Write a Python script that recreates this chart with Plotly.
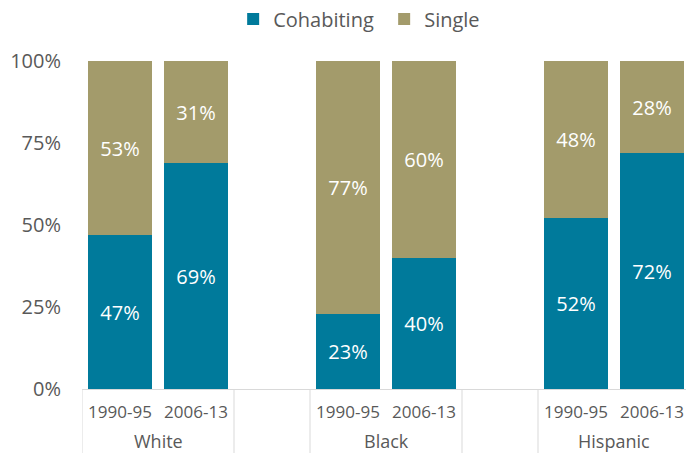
import plotly.graph_objects as go

groups = ["White", "Black", "Hispanic"]
periods = ["1990-95", "2006-13"]
cohabiting = [47, 69, 23, 40, 52, 72]
single = [53, 31, 77, 60, 48, 28]
y_ticks = [0, 25, 50, 75, 100]
y_tick_labels = ["0%", "25%", "50%", "75%", "100%"]

# slot positions: two bars per group, one empty slot between groups
xpos = []
for gi in range(len(groups)):
    for pi in range(len(periods)):
        xpos.append(gi * 3 + pi)
xlabels = periods * len(groups)

TEAL = "#007A9B"
TAN = "#A39B6B"
GREY = "#595959"
FONT = "Open Sans"

fig = go.Figure()
fig.add_trace(go.Bar(
    x=xpos, y=cohabiting, name="Cohabiting", marker_color=TEAL,
    marker_line_width=0, width=0.83,
    text=[f"{v}%" for v in cohabiting], textposition="inside",
    insidetextanchor="middle", textangle=0,
    textfont=dict(color="white", size=20, family=FONT),
))
fig.add_trace(go.Bar(
    x=xpos, y=single, name="Single", marker_color=TAN,
    marker_line_width=0, width=0.83,
    text=[f"{v}%" for v in single], textposition="inside",
    insidetextanchor="middle", textangle=0,
    textfont=dict(color="white", size=20, family=FONT),
))

H_IN = 328.0
bottom_frac = -64.0 / H_IN
# separator lines below axis
sep = [-0.5]
for gi in range(len(groups)):
    sep.append(gi * 3 + 1.5)
    if gi < len(groups) - 1:
        sep.append(gi * 3 + 2.5)
for s in sep:
    fig.add_shape(type="line", xref="x", yref="paper", x0=s, x1=s,
                  y0=0, y1=bottom_frac, line=dict(color="#D9D9D9", width=1))

for gi, g in enumerate(groups):
    fig.add_annotation(x=gi * 3 + 0.5, xref="x", y=-52.0 / H_IN, yref="paper",
                       text=g, showarrow=False, yanchor="middle",
                       font=dict(size=18, color=GREY, family=FONT))

fig.update_layout(
    width=686, height=453,
    margin=dict(l=82, r=0, t=61, b=64),
    barmode="stack",
    bargap=0,
    plot_bgcolor="white", paper_bgcolor="white",
    font=dict(family=FONT, color=GREY, size=17),
    showlegend=True,
    legend=dict(orientation="h", xref="container", yref="container",
                x=0.56, xanchor="center", y=0.958, yanchor="middle",
                font=dict(size=20, color=GREY, family=FONT),
                itemwidth=30, traceorder="normal",
                entrywidth=106, entrywidthmode="pixels"),
    uniformtext=dict(mode=False),
)
fig.update_xaxes(
    range=[-0.5, -0.5 + 604 / 76.0],
    tickvals=xpos, ticktext=xlabels,
    showgrid=False, zeroline=False,
    showline=True, linecolor="#D9D9D9", linewidth=1,
    ticks="", ticklabelstandoff=8,
    tickfont=dict(size=17, color=GREY, family=FONT),
)
fig.update_yaxes(
    range=[0, 100], tickvals=y_ticks, ticktext=y_tick_labels,
    showgrid=False, zeroline=False, showline=False,
    ticks="", ticklabelstandoff=20,
    tickfont=dict(size=20, color=GREY, family=FONT),
)

fig.write_html("out.html")
